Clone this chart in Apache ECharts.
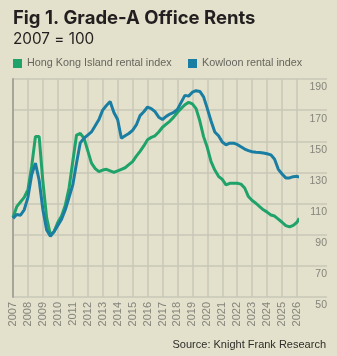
<!DOCTYPE html>
<html lang="en">
<head>
<meta charset="UTF-8">
<title>Grade-A Office Rents</title>
<script src="https://cdn.jsdelivr.net/npm/echarts@6/dist/echarts.min.js"></script>
<style>
    html, body { margin: 0; padding: 0; background: #e3e1cb; }
    #chart { width: 337px; height: 356px; }
</style>
</head>
<body>
<div id="chart"></div>
<script>
    // quarterly points, last one is early 2026
    var dates = [
        2007, 2007.25, 2007.5, 2007.75, 2008, 2008.25, 2008.5, 2008.75,
        2009, 2009.25, 2009.5, 2009.75, 2010, 2010.25, 2010.5, 2010.75,
        2011, 2011.25, 2011.5, 2011.75, 2012, 2012.25, 2012.5, 2012.75,
        2013, 2013.25, 2013.5, 2013.75, 2014, 2014.25, 2014.5, 2014.75,
        2015, 2015.25, 2015.5, 2015.75, 2016, 2016.25, 2016.5, 2016.75,
        2017, 2017.25, 2017.5, 2017.75, 2018, 2018.25, 2018.5, 2018.75,
        2019, 2019.25, 2019.5, 2019.75, 2020, 2020.25, 2020.5, 2020.75,
        2021, 2021.25, 2021.5, 2021.75, 2022, 2022.25, 2022.5, 2022.75,
        2023, 2023.25, 2023.5, 2023.75, 2024, 2024.25, 2024.5, 2024.75,
        2025, 2025.25, 2025.5, 2025.75, 2026, 2026.15
    ];
    var hkIsland = [
        101, 108, 111, 114, 119, 134, 153, 153,
        124, 101, 90, 92, 98, 102, 109, 120,
        137, 154, 155, 152, 144, 136, 132.5, 130.5,
        131.5, 132, 131, 130, 131, 132, 133, 135,
        137, 140.5, 143.5, 147, 151, 152.5, 153.5, 156,
        159, 161, 163, 165.5, 168.5, 171, 173.5, 175,
        174, 171, 163, 153, 146, 137, 131.5, 127.5,
        125.5, 122, 123, 123, 123, 122.5, 120, 114.5,
        112, 110.2, 108, 106, 104.5, 102.7, 102, 100,
        98, 95.8, 95, 96, 98, 100.5
    ];
    var kowloon = [
        100.5, 103, 102.5, 106, 114, 128.5, 136, 125,
        106, 93, 89, 92, 96, 100, 106, 114,
        122, 136, 149, 152, 154, 156, 160, 164,
        170, 173, 175.5, 168.5, 164, 152, 153.5, 155,
        157, 160.5, 166.5, 169, 172, 171, 169, 165.5,
        164, 166, 167.5, 168.5, 170.5, 175, 179.5, 179,
        181.5, 182.5, 182, 178.5, 171, 163, 156, 153.5,
        149.5, 147.7, 148.8, 148.8, 148, 146.5, 145, 144,
        143.3, 143, 142.8, 142.5, 142, 141.3, 138.5, 132,
        129, 126.5, 126.5, 127.3, 127.5, 127
    ];
    var seriesNames = ['Hong Kong Island rental index', 'Kowloon rental index'];
    var seriesColors = ['#1fa36a', '#1a7ea2'];

    function pairs(vals) {
        return vals.map(function (v, i) { return [dates[i], v]; });
    }

    var gridColor = '#c9c7b9';
    var chart = echarts.init(document.getElementById('chart'));
    var option = {
        animation: false,
        backgroundColor: '#e3e1cb',
        title: [{
            text: 'Fig 1. Grade-A Office Rents',
            left: 13, top: 9, padding: 0,
            textStyle: { fontFamily: 'Inter', fontWeight: 700, fontSize: 18.5, color: '#231f20' }
        }, {
            text: '2007 = 100',
            left: 13, top: 32, padding: 0,
            textStyle: { fontFamily: 'Inter', fontWeight: 400, fontSize: 15.3, color: '#231f20' }
        }],
        legend: [{
            data: [seriesNames[0]],
            left: 13, top: 58, padding: 0,
            icon: 'rect', itemWidth: 9, itemHeight: 9, itemGap: 0,
            textStyle: { fontFamily: 'Liberation Sans', fontSize: 10.8, color: '#66655e', padding: [0, 0, 0, 0] }
        }, {
            data: [seriesNames[1]],
            left: 188, top: 58, padding: 0,
            icon: 'rect', itemWidth: 9, itemHeight: 9, itemGap: 0,
            textStyle: { fontFamily: 'Liberation Sans', fontSize: 10.8, color: '#66655e', padding: [0, 0, 0, 0] }
        }],
        grid: [
            // wide grid: horizontal lines and right-hand labels
            { left: 13, right: 10, top: 79, bottom: 59 },
            // data grid: 2007 - 2026
            { left: 13, right: 40, top: 79, bottom: 59 }
        ],
        xAxis: [{
            gridIndex: 0, type: 'value', min: 2007, max: 2028, show: false
        }, {
            gridIndex: 1, type: 'value', min: 2007, max: 2026, interval: 1,
            axisLine: { show: false },
            axisTick: { show: false },
            axisLabel: {
                rotate: 90, margin: 5, color: '#85847c', fontSize: 11,
                fontFamily: 'Liberation Sans',
                formatter: function (v) { return String(v); }
            },
            splitLine: { show: true, lineStyle: { color: gridColor, width: 1.5 } }
        }],
        yAxis: [{
            gridIndex: 0, type: 'value', position: 'right', min: 50, max: 190, interval: 20,
            axisLine: { show: false },
            axisTick: { show: false },
            axisLabel: {
                inside: true, margin: 0, color: '#85847c', fontSize: 10.5,
                fontFamily: 'Liberation Sans', verticalAlign: 'top', padding: [3, 0, 0, 0]
            },
            splitLine: { show: true, lineStyle: { color: gridColor, width: 1.5 } }
        }, {
            gridIndex: 1, type: 'value', min: 50, max: 190, interval: 20,
            axisLine: { show: true, lineStyle: { color: '#a6a59c', width: 2 } },
            axisTick: { show: false },
            axisLabel: { show: false },
            splitLine: { show: false }
        }],
        series: [{
            name: seriesNames[0], type: 'line', xAxisIndex: 1, yAxisIndex: 1,
            data: pairs(hkIsland), showSymbol: false, smooth: false,
            itemStyle: { color: seriesColors[0] },
            lineStyle: { color: seriesColors[0], width: 3 }
        }, {
            name: seriesNames[1], type: 'line', xAxisIndex: 1, yAxisIndex: 1,
            data: pairs(kowloon), showSymbol: false, smooth: false,
            itemStyle: { color: seriesColors[1] },
            lineStyle: { color: seriesColors[1], width: 3 }
        }],
        graphic: [{
            type: 'text', right: 11, top: 339,
            style: {
                text: 'Source: Knight Frank Research',
                font: '500 11px "Liberation Sans"', fill: '#2e2d2a'
            }
        }]
    };
    chart.setOption(option);
</script>
</body>
</html>
